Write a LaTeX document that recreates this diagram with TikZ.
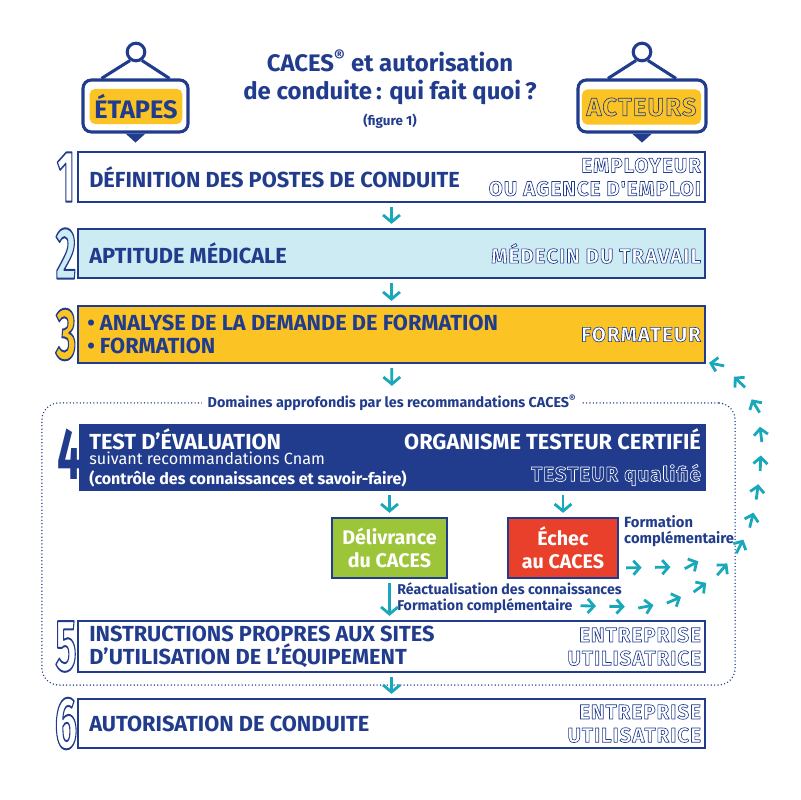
\documentclass[tikz,border=0pt]{standalone}
\usepackage{fontspec}
\setmainfont{Fira Sans}
\newfontfamily\outfont{Fira Sans}[LetterSpace=5]
\usepackage{graphicx}
\usetikzlibrary{arrows.meta,positioning,decorations.markings,calc}

\definecolor{inrsblue}{HTML}{213C8C}
\definecolor{inrsteal}{HTML}{19A7BA}
\definecolor{inrslight}{HTML}{CDEBF3}
\definecolor{inrsyellow}{HTML}{FBC424}
\definecolor{inrsgreen}{HTML}{9DC53A}
\definecolor{inrsred}{HTML}{E8402A}

% hollow letters: fill in the text colour, stroke in blue (or white)
\newcommand{\outl}[1]{\special{pdf:literal direct 0.129 0.235 0.549 RG 0.45 w 1 j 2 Tr}#1\special{pdf:literal direct 0 Tr}}
\newcommand{\outw}[1]{\special{pdf:literal direct 1 1 1 RG 0.45 w 1 j 2 Tr}#1\special{pdf:literal direct 0 Tr}}
\newcommand{\bigdigit}[2]{\scalebox{0.54}[1]{\textcolor{#1}{\special{pdf:literal direct 0.129 0.235 0.549 RG 1.4 w 1 j 2 Tr}#2\special{pdf:literal direct 0 Tr}}}}

\begin{document}
\begin{tikzpicture}[x=0.025cm, y=-0.025cm,
stepbox/.style={draw=inrsblue, line width=1.3pt, minimum width=15.675cm, inner sep=0},
steptxt/.style={font=\bfseries\fontsize{15.5}{16.5}\selectfont, text=inrsblue, align=left, inner sep=0},
actortxt/.style={font=\outfont\bfseries\fontsize{14.6}{16.5}\selectfont, text=white, align=right, inner sep=0},
bignum/.style={font=\bfseries\fontsize{52}{52}\selectfont, inner sep=0},
resbox/.style={draw=inrsblue, line width=1.3pt, minimum height=1.5cm, text=white, align=center, font=\bfseries\fontsize{14}{16.5}\selectfont},
smalltxt/.style={font=\bfseries\fontsize{10.5}{11.8}\selectfont, text=inrsblue, align=left, inner sep=0},
flow/.style={-{Straight Barb[length=5pt,width=12pt]}, line width=2pt, draw=inrsteal, shorten <=3pt, shorten >=3pt},
dotbox/.style={draw=inrsblue, line width=1.1pt, dash pattern=on 0pt off 2.4pt, line cap=round, rounded corners=12pt},
hopchain/.style={postaction={decorate}, decoration={markings, mark=between positions 14pt and 1 step 20.5pt with {\draw[inrsteal, line width=2pt, -{Straight Barb[length=4.5pt,width=10pt]}] (-11pt,0) -- (0,0);}}},
hopback/.style={postaction={decorate}, decoration={markings, mark=between positions 0pt and 1 step 20.5pt with {\draw[inrsteal, line width=2pt, {Straight Barb[length=4.5pt,width=10pt]}-] (0,0) -- (11pt,0);}}},
signbox/.style={draw=inrsblue, line width=2.2pt, fill=white, rounded corners=6pt, minimum height=1.3cm},
signtag/.style={fill=inrsyellow, rounded corners=4pt, minimum height=0.88cm, font=\bfseries\fontsize{18}{18}\selectfont},
hang/.style={draw=inrsblue, line width=2.2pt}
]
\useasboundingbox (0,0) rectangle (800,800);

% title
\node[font=\bfseries\fontsize{17}{20}\selectfont, text=inrsblue, align=center] (title) at (390,77) {CACES\textsuperscript{®} et autorisation\\de conduite\,: qui fait quoi\,?};
\node[font=\bfseries\fontsize{9.5}{11}\selectfont, text=inrsblue, below=0cm of title] (fig) {(figure 1)};

% signs
\node[signbox, minimum width=2.625cm] (sgL) at (135.5,106) {};
\node[signtag, minimum width=2.3cm, text=inrsblue] (tagL) at (136,106.5) {ÉTAPES};
\node[draw=inrsblue, line width=2.2pt, circle, minimum size=0.44cm, inner sep=0] (ringL) at (136,52) {};
\draw[hang] (ringL.-125) -- ($(sgL.north)+(-34,0)$);
\draw[hang] (ringL.-55) -- ($(sgL.north)+(34,0)$);
\fill[inrsblue] ($(sgL.south)+(-10,0)$) -- ($(sgL.south)+(10,0)$) -- ($(sgL.south)+(0,9)$) -- cycle;

\node[signbox, minimum width=3.2cm] (sgR) at (642,106) {};
\node[signtag, minimum width=2.825cm, text=inrsyellow, font=\outfont\bfseries\fontsize{18}{18}\selectfont] (tagR) at (641.5,107) {\outl{ACTEURS}};
\node[draw=inrsblue, line width=2.2pt, circle, minimum size=0.44cm, inner sep=0] (ringR) at (642,52) {};
\draw[hang] (ringR.-125) -- ($(sgR.north)+(-34,0)$);
\draw[hang] (ringR.-55) -- ($(sgR.north)+(34,0)$);
\fill[inrsblue] ($(sgR.south)+(-10,0)$) -- ($(sgR.south)+(10,0)$) -- ($(sgR.south)+(0,9)$) -- cycle;

% frame of the CACES part
\node[dotbox, minimum width=17.325cm, minimum height=7.05cm] (zone) at (388.5,544) {};
\node[fill=white, inner xsep=4pt, font=\bfseries\fontsize{10.2}{12}\selectfont, text=inrsblue] (dom) at (392,403) {Domaines approfondis par les recommandations CACES\textsuperscript{®}};

% steps
\node[stepbox, fill=white, minimum height=1.25cm] (b1) at (391.5,177) {};
\node[stepbox, fill=inrslight, minimum height=1.225cm] (b2) at (391.5,253.5) {};
\node[stepbox, fill=inrsyellow, minimum height=1.425cm] (b3) at (391.5,334.5) {};
\node[stepbox, fill=inrsblue, minimum height=1.625cm, minimum width=15.625cm] (b4) at (392.5,457.5) {};
\node[stepbox, fill=white, minimum height=1.275cm] (b5) at (391.5,646.5) {};
\node[stepbox, fill=white, minimum height=1.225cm] (b6) at (391.5,723.5) {};

\node[bignum] (n1) at (66,177) {\bigdigit{white}{1}};
\node[bignum] (n2) at (66,253.5) {\bigdigit{inrslight}{2}};
\node[bignum] (n3) at (66,334.5) {\bigdigit{inrsyellow}{3}};
\node[bignum, text=inrsblue] (n4) at (69,454) {\scalebox{0.58}[1]{4}};
\node[bignum] (n5) at (66,646.5) {\bigdigit{white}{5}};
\node[bignum] (n6) at (66,723.5) {\bigdigit{white}{6}};

\node[steptxt, right=0.3cm of b1.west] (t1) {DÉFINITION DES POSTES DE CONDUITE};
\node[actortxt, left=0.12cm of b1.east] (a1) {\outl{EMPLOYEUR}\\\outl{OU AGENCE D'EMPLOI}};
\node[steptxt, right=0.3cm of b2.west] (t2) {APTITUDE MÉDICALE};
\node[actortxt, left=0.12cm of b2.east] (a2) {\outl{MÉDECIN DU TRAVAIL}};
\node[steptxt, right=0.25cm of b3.west] (t3) {• ANALYSE DE LA DEMANDE DE FORMATION\\• FORMATION};
\node[actortxt, left=0.12cm of b3.east] (a3) {\outl{FORMATEUR}};

\node[steptxt, text=white, below right=0.1cm and 0.25cm of b4.north west] (t4a) {TEST D'ÉVALUATION};
\node[font=\fontsize{11.5}{13}\selectfont, text=white, inner sep=0, below=0.05cm of t4a.south west, anchor=north west] (t4b) {suivant recommandations Cnam};
\node[font=\bfseries\fontsize{11.4}{13}\selectfont, text=white, inner sep=0, below=0.14cm of t4b.south west, anchor=north west] (t4c) {(contrôle des connaissances et savoir-faire)};
\node[steptxt, text=white, below left=0.1cm and 0.12cm of b4.north east] (a4a) {ORGANISME TESTEUR CERTIFIÉ};
\node[actortxt, text=inrsblue, above left=0.12cm and 0.12cm of b4.south east] (a4b) {\outw{TESTEUR qualifié}};

\node[steptxt, right=0.3cm of b5.west] (t5) {INSTRUCTIONS PROPRES AUX SITES\\D'UTILISATION DE L'ÉQUIPEMENT};
\node[actortxt, left=0.12cm of b5.east] (a5) {\outl{ENTREPRISE}\\\outl{UTILISATRICE}};
\node[steptxt, right=0.3cm of b6.west] (t6) {AUTORISATION DE CONDUITE};
\node[actortxt, left=0.12cm of b6.east] (a6) {\outl{ENTREPRISE}\\\outl{UTILISATRICE}};

% test results
\node[resbox, fill=inrsgreen, minimum width=2.875cm] (deliv) at (389.5,548) {Délivrance\\du CACES};
\node[resbox, fill=inrsred, minimum width=2.75cm] (echec) at (563,548) {Échec\\au CACES};
\node[smalltxt, anchor=north west] (fc) at ($(echec.north east)+(5,-2)$) {Formation\\complémentaire};
\node[smalltxt, font=\bfseries\fontsize{10.1}{11.8}\selectfont, anchor=west] (reac1) at (397,589) {Réactualisation des connaissances};
\node[smalltxt, font=\bfseries\fontsize{10.1}{11.8}\selectfont, anchor=west] (reac2) at (397,606) {Formation complémentaire};

% arrows
\draw[flow] (b1) -- (b2);
\draw[flow] (b2) -- (b3);
\draw[flow] (b3) -- (dom);
\draw[flow] (b4.south -| deliv) -- (deliv);
\draw[flow] (b4.south -| echec) -- (echec);
\draw[flow] (deliv) -- (deliv |- b5.north);
\draw[flow] (b5) -- (b6);

% back to training
\path[hopchain] ($(echec.south east)+(3,-11)$) -- (675,567) .. controls (690,567) and (700,562) .. (714,550);
\path[hopback] ($(b3.south east)+(3,-1)$) .. controls (725,366) and (740,380) .. (752,400) .. controls (764,420) and (763,460) .. (755,505) .. controls (745,560) and (700,602) .. (640,607) -- ($(reac2.east)+(20,0)$);
\end{tikzpicture}
\end{document}
